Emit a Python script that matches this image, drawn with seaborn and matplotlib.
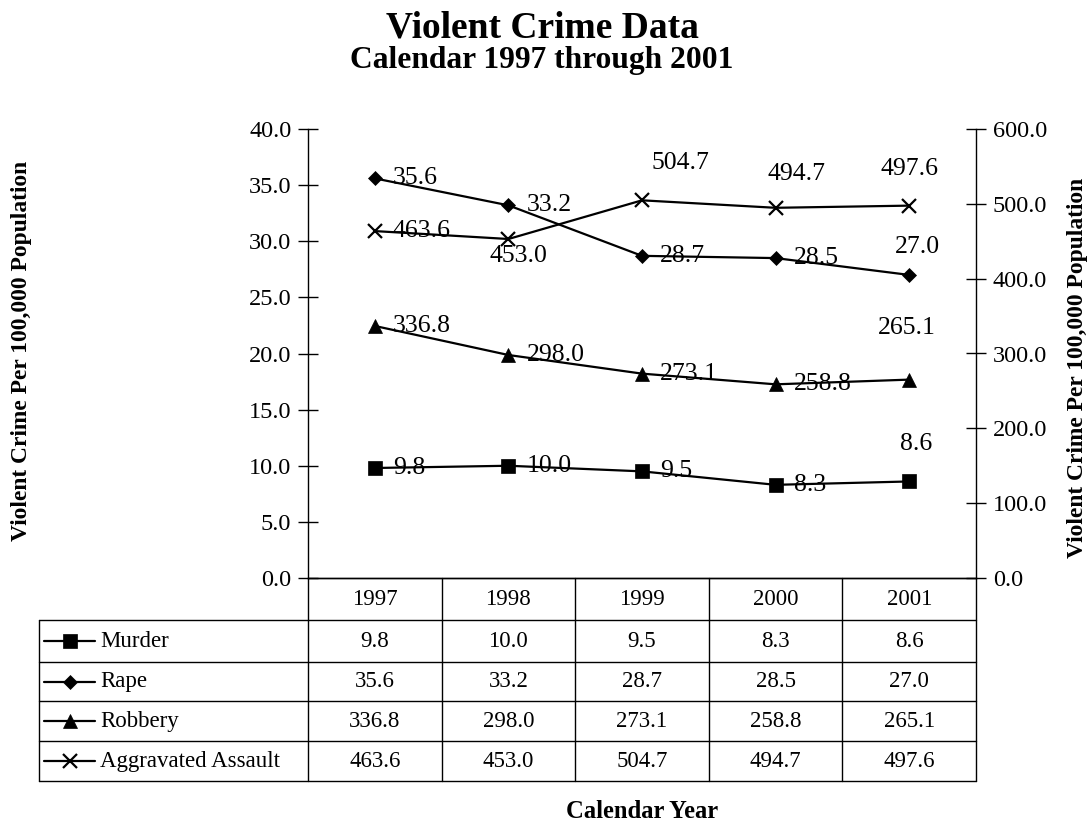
# Violent crime chart: twin axes line plot with an Excel-style data table below
import numpy as np
import pandas as pd
import matplotlib
matplotlib.use('Agg')
import matplotlib.pyplot as plt
import matplotlib.transforms as mtransforms
import seaborn as sns

# data
years = ['1997', '1998', '1999', '2000', '2001']
murder = [9.8, 10.0, 9.5, 8.3, 8.6]
rape = [35.6, 33.2, 28.7, 28.5, 27.0]
robbery = [336.8, 298.0, 273.1, 258.8, 265.1]
assault = [463.6, 453.0, 504.7, 494.7, 497.6]
crimes = ['Murder', 'Rape', 'Robbery', 'Aggravated Assault']

df = pd.DataFrame({
    'pos': list(range(len(years))) * 4,
    'year': years * 4,
    'value': murder + rape + robbery + assault,
    'crime': [c for c in crimes for _ in years],
})

# styling per series (marker, size, which axis)
style = {
    'Murder': dict(marker='s', ms=10, axis='left'),
    'Rape': dict(marker='D', ms=7, axis='left'),
    'Robbery': dict(marker='^', ms=10, axis='right'),
    'Aggravated Assault': dict(marker='x', ms=9.5, axis='right'),
}

# label placement: ('r', dx, dy) = left-aligned right of point, ('c', dx, dy) = centred offset (pixels)
R = ('r', 18, 0)
label_place = {
    'Murder': [R, R, R, R, ('c', 7, 37)],
    'Rape': [R, R, R, R, ('c', 8, 28)],
    'Robbery': [R, R, R, R, ('c', -2, 52)],
    'Aggravated Assault': [R, ('c', 10, -17), ('c', 38, 37), ('c', 21, 34), ('c', 0, 37)],
}

sns.set_style('white')
plt.rcParams['font.family'] = ['Liberation Serif', 'DejaVu Serif']
plt.rcParams['text.color'] = 'black'
plt.rcParams['axes.labelcolor'] = 'black'
plt.rcParams['ytick.color'] = 'black'
plt.rcParams['xtick.color'] = 'black'

FS = 16.5      # table text
FS_TICK = 17.5
FS_LAB = 18.5  # point labels
W, H = 1092, 821
fig = plt.figure(figsize=(W / 100, H / 100), dpi=100)

# axes box in pixels
L, Rt, T, B = 308, 976, 129, 578
ax = fig.add_axes([L / W, (H - B) / H, (Rt - L) / W, (B - T) / H])
ax2 = ax.twinx()

for c in crimes:
    st = style[c]
    a = ax if st['axis'] == 'left' else ax2
    sub = df[df['crime'] == c]
    sns.lineplot(data=sub, x='pos', y='value', ax=a, color='black', lw=1.6,
                 marker=st['marker'], markersize=st['ms'], markeredgecolor='black',
                 markeredgewidth=1.6 if st['marker'] == 'x' else 0.5, legend=False)
    for i, (x, v) in enumerate(zip(sub['pos'], sub['value'])):
        kind, dx, dy = label_place[c][i]
        a.annotate(f'{v:.1f}', (x, v), xytext=(dx, dy), textcoords='offset pixels',
                   ha='left' if kind == 'r' else 'center', va='center',
                   fontsize=FS_LAB, color='black')

ax.set_xlim(-0.5, len(years) - 0.5)
ax.set_ylim(0, 40)
ax2.set_ylim(0, 600)
ax.set_yticks(np.arange(0, 40.1, 5))
ax2.set_yticks(np.arange(0, 601, 100))
ax.yaxis.set_major_formatter(matplotlib.ticker.FormatStrFormatter('%.1f'))
ax2.yaxis.set_major_formatter(matplotlib.ticker.FormatStrFormatter('%.1f'))
for a in (ax, ax2):
    a.set_xlabel('')
    a.set_ylabel('')
    a.set_xticks([])
    a.tick_params(axis='y', direction='inout', length=14, width=1, labelsize=FS_TICK,
                  pad=5, colors='black')
    for s in a.spines.values():
        s.set_color('black')
        s.set_linewidth(1)
    a.spines['top'].set_visible(False)
ax2.spines['left'].set_visible(False)
ax.spines['right'].set_visible(False)
ax.tick_params(axis='y', left=True, right=False)
ax2.tick_params(axis='y', right=True, left=False)

# data table under the plot, drawn in axes coords
def fx(px):
    return (px - L) / (Rt - L)

def fy(py):
    return (B - py) / (B - T)

row_edges = [578, 620, 662, 701, 741, 781]
leg_left = 39
tr = mtransforms.blended_transform_factory(ax.transData, ax.transAxes)
kw = dict(color='black', lw=1, clip_on=False, transform=ax.transAxes)

for py in row_edges[1:]:
    ax.plot([fx(leg_left), 1], [fy(py)] * 2, **kw)
ax.plot([fx(leg_left)] * 2, [fy(row_edges[1]), fy(row_edges[-1])], **kw)
for xb in np.arange(-0.5, len(years), 1.0):
    ax.plot([xb, xb], [fy(row_edges[0]), fy(row_edges[-1])], color='black', lw=1,
            clip_on=False, transform=tr)

def row_mid(r):
    return fy((row_edges[r] + row_edges[r + 1]) / 2)

for i, y in enumerate(years):
    ax.text(i, row_mid(0), y, transform=tr, ha='center', va='center', fontsize=FS)

values = [murder, rape, robbery, assault]
for r, (c, vals) in enumerate(zip(crimes, values), start=1):
    ym = row_mid(r)
    for i, v in enumerate(vals):
        ax.text(i, ym, f'{v:.1f}', transform=tr, ha='center', va='center', fontsize=FS)
    st = style[c]
    ax.plot([fx(44), fx(95)], [ym, ym], color='black', lw=1.6, clip_on=False,
            transform=ax.transAxes)
    ax.plot([fx(70)], [ym], marker=st['marker'], ms=st['ms'], color='black',
            mew=1.6 if st['marker'] == 'x' else 0.5, clip_on=False, transform=ax.transAxes)
    ax.text(fx(100), ym, c, transform=ax.transAxes, ha='left', va='center', fontsize=FS)

# titles and axis labels
fig.text(542 / W, 1 - 37 / H, 'Violent Crime Data', ha='center', va='baseline',
         fontsize=27, fontweight='bold')
fig.text(542 / W, 1 - 68 / H, 'Calendar 1997 through 2001', ha='center', va='baseline',
         fontsize=22.7, fontweight='bold')
fig.text(642 / W, 3 / H, 'Calendar Year', ha='center', va='baseline', fontsize=17.7,
         fontweight='bold')
fig.text(22 / W, 1 - 351 / H, 'Violent Crime Per 100,000 Population', rotation=90,
         ha='center', va='center', fontsize=16.9, fontweight='bold')
fig.text(1078 / W, 1 - 368 / H, 'Violent Crime Per 100,000 Population', rotation=90,
         ha='center', va='center', fontsize=16.9, fontweight='bold')

fig.savefig('out.png', dpi=100)
